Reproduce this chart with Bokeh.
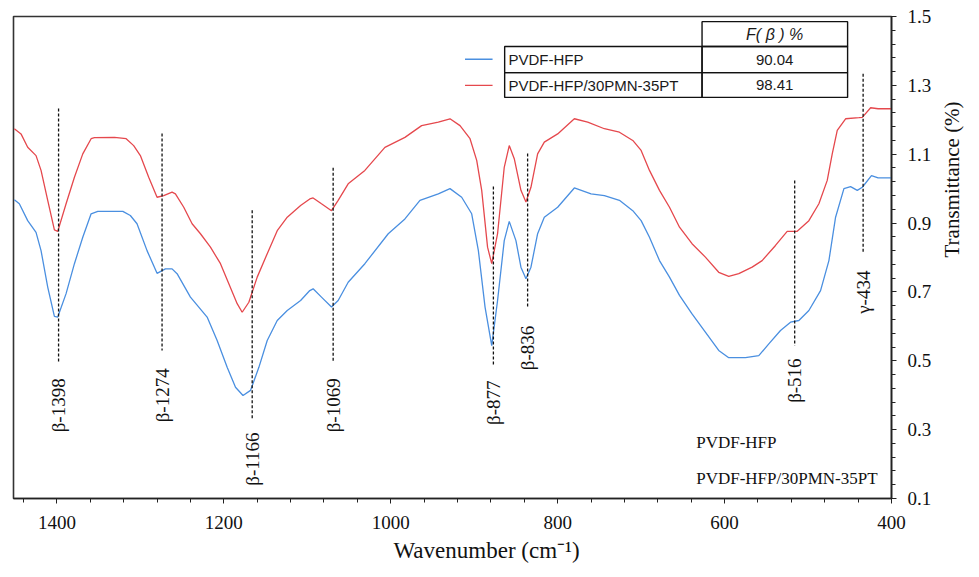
import math
from bokeh.plotting import figure
from bokeh.models import Range1d, FixedTicker, LinearAxis, Title
from bokeh.core.properties import value
from bokeh.embed import file_html
from bokeh.resources import INLINE

# FTIR spectra: wavenumber (cm-1) vs transmittance
pvdf_wn = [1451, 1445, 1435, 1425, 1419, 1411, 1403, 1399, 1389, 1379, 1369, 1359, 1351,
           1321, 1312, 1304, 1292, 1280, 1270, 1262, 1256, 1240, 1220, 1208, 1196, 1186,
           1177, 1168, 1158, 1148, 1136, 1124, 1108, 1097, 1093, 1083, 1071, 1063, 1051,
           1031, 1003, 983, 965, 943, 929, 915, 903, 895, 887, 879, 872, 864, 858, 850,
           844, 838, 832, 824, 816, 800, 780, 760, 744, 726, 710, 700, 690, 678, 666,
           654, 639, 623, 607, 595, 575, 559, 547, 533, 521, 511, 499, 485, 475, 467,
           457, 449, 441, 435, 424, 416, 400]
pvdf_t = [0.968, 0.956, 0.907, 0.873, 0.820, 0.714, 0.629, 0.627, 0.695, 0.782, 0.859, 0.927, 0.934,
          0.934, 0.922, 0.898, 0.820, 0.754, 0.767, 0.767, 0.753, 0.685, 0.627, 0.559, 0.481, 0.423,
          0.399, 0.414, 0.481, 0.559, 0.617, 0.646, 0.675, 0.704, 0.709, 0.685, 0.656, 0.675, 0.728,
          0.782, 0.869, 0.912, 0.966, 0.985, 1.000, 0.975, 0.927, 0.820, 0.656, 0.544, 0.675, 0.849, 0.905, 0.849,
          0.772, 0.738, 0.772, 0.869, 0.917, 0.946, 1.002, 0.985, 0.980, 0.966, 0.936, 0.907, 0.859, 0.791, 0.743,
          0.690, 0.636, 0.583, 0.530, 0.509, 0.509, 0.515, 0.549, 0.588, 0.612, 0.617, 0.646, 0.704, 0.791, 0.917,
          1.000, 1.006, 0.995, 1.004, 1.038, 1.031, 1.031]

comp_wn = [1451, 1443, 1435, 1425, 1419, 1411, 1403, 1399, 1389, 1379, 1369, 1359, 1355,
           1331, 1317, 1308, 1300, 1290, 1280, 1272, 1262, 1258, 1248, 1238, 1228, 1216,
           1204, 1194, 1184, 1178, 1170, 1160, 1148, 1136, 1124, 1108, 1097, 1093, 1083,
           1071, 1063, 1051, 1031, 1007, 983, 963, 943, 929, 917, 905, 897, 891, 884, 879,
           872, 864, 858, 852, 844, 838, 832, 824, 816, 800, 780, 764, 744, 726, 710, 700,
           690, 678, 666, 654, 639, 623, 607, 595, 583, 567, 555, 539, 525, 513, 499, 487,
           477, 471, 465, 455, 439, 435, 425, 416, 400]
comp_t = [1.174, 1.159, 1.120, 1.096, 1.053, 0.966, 0.880, 0.876, 0.956, 1.033, 1.101, 1.145, 1.148,
          1.149, 1.145, 1.125, 1.096, 1.033, 0.975, 0.980, 0.990, 0.985, 0.946, 0.898, 0.869, 0.830,
          0.782, 0.724, 0.666, 0.641, 0.670, 0.743, 0.811, 0.878, 0.917, 0.951, 0.970, 0.973, 0.956,
          0.936, 0.966, 1.014, 1.053, 1.120, 1.149, 1.183, 1.193, 1.203, 1.183, 1.145, 1.082, 0.995, 0.830, 0.782,
          0.869, 1.062, 1.125, 1.087, 0.995, 0.961, 1.004, 1.101, 1.135, 1.159, 1.203, 1.193, 1.174, 1.164, 1.140, 1.111,
          1.053, 0.995, 0.946, 0.888, 0.840, 0.801, 0.757, 0.745, 0.753, 0.772, 0.791, 0.835, 0.876, 0.876, 0.907, 0.956,
          1.024, 1.101, 1.169, 1.203, 1.206, 1.207, 1.235, 1.232, 1.232]

series_names = ["PVDF-HFP", "PVDF-HFP/30PMN-35PT"]
f_beta = ["90.04", "98.41"]

# assigned absorption bands
band_wn = [1398, 1274, 1166, 1069, 877, 836, 516, 434]
band_labels = ["β-1398", "β-1274", "β-1166", "β-1069", "β-877", "β-836", "β-516", "γ-434"]

x_ticks = [400, 600, 800, 1000, 1200, 1400]
y_ticks = [0.1, 0.3, 0.5, 0.7, 0.9, 1.1, 1.3, 1.5]

# layout of the band markers (dashed guide extents and label anchor heights)
guide_top = [1.233, 1.160, 0.937, 1.061, 1.006, 1.102, 1.024, 1.334]
guide_bottom = [0.495, 0.530, 0.332, 0.495, 0.486, 0.652, 0.544, 0.815]
label_top = [0.449, 0.478, 0.292, 0.449, 0.443, 0.602, 0.507, 0.762]

BLUE = "#4a8fe0"
RED = "#e5484d"
SERIF = "Liberation Serif"
SANS = "Liberation Sans"

p = figure(width=979, height=577, output_backend="svg", toolbar_location=None,
           x_range=Range1d(1452, 400), y_range=Range1d(0.1, 1.5),
           y_axis_location="right", min_border_left=13, min_border_top=16,
           min_border_right=86, min_border_bottom=79)
p.background_fill_color = "white"
p.border_fill_color = "white"
p.grid.visible = False
p.outline_line_color = "#333333"
p.outline_line_width = 1.6

# axes
p.xaxis.ticker = FixedTicker(ticks=x_ticks, minor_ticks=list(range(400, 1460, 40)))
p.yaxis.ticker = FixedTicker(ticks=y_ticks,
                             minor_ticks=[round(0.1 + 0.04 * i, 2) for i in range(36)])
p.axis.axis_line_color = "#222222"
p.axis.axis_line_width = 1.6
p.axis.major_tick_line_color = "#222222"
p.axis.minor_tick_line_color = "#222222"
p.axis.major_tick_in = 0
p.axis.minor_tick_in = 0
p.axis.major_tick_out = 5
p.axis.minor_tick_out = 4
p.axis.major_label_text_font = SERIF
p.axis.major_label_text_font_size = "19px"
p.axis.major_label_text_color = "#111111"
p.xaxis.major_label_standoff = 12
p.yaxis.major_label_standoff = 11

p.yaxis.axis_label = "Transmittance (%)"
p.yaxis.axis_label_text_font = SERIF
p.yaxis.axis_label_text_font_style = "normal"
p.yaxis.axis_label_text_font_size = "21px"
p.yaxis.axis_label_text_color = "#111111"
p.yaxis.axis_label_standoff = 18
p.yaxis.axis_label_orientation = math.pi / 2

# empty axis used as vertical padding between the tick labels and the x title
pad_axis = LinearAxis(ticker=FixedTicker(ticks=[]), axis_line_color=None,
                      major_tick_line_color="white", minor_tick_line_color=None,
                      major_tick_in=0, major_tick_out=12, minor_tick_in=0, minor_tick_out=0,
                      major_label_standoff=0)
p.add_layout(pad_axis, "below")
p.add_layout(Title(text="Wavenumber (cm⁻¹)", align="left", offset=380,
                   text_font=SERIF, text_font_size="23px", text_font_style="normal",
                   text_color="#111111", standoff=8), "below")

# spectra
p.line(pvdf_wn, pvdf_t, line_color=BLUE, line_width=1.3)
p.line(comp_wn, comp_t, line_color=RED, line_width=1.3)

# band markers
p.segment(x0=band_wn, y0=guide_top, x1=band_wn, y1=guide_bottom,
          line_color="#111111", line_width=1.3, line_dash="3 2")
p.text(x=band_wn, y=label_top, text=band_labels, angle=math.pi / 2,
       text_align="right", text_baseline="middle",
       text_font=value(SERIF), text_font_size="19px", text_color="#111111")

# legend table with F(beta) values
p.quad(left=[627, 863.5, 627, 863.5, 627], right=[452.6, 627, 452.6, 627, 452.6],
       top=[1.485, 1.413, 1.413, 1.337, 1.337], bottom=[1.413, 1.337, 1.337, 1.265, 1.265],
       fill_color=None, line_color="#111111", line_width=1.4)
p.segment(x0=[911, 911], y0=[1.376, 1.300], x1=[878, 878], y1=[1.376, 1.300],
          line_color=[BLUE, RED], line_width=1.4)
p.text(x=[859, 859], y=[1.375, 1.300], text=series_names,
       text_align="left", text_baseline="middle",
       text_font=value(SANS), text_font_size="15px", text_color="#1a1a1a")
p.text(x=[540, 540], y=[1.375, 1.300], text=f_beta,
       text_align="center", text_baseline="middle",
       text_font=value(SANS), text_font_size="15px", text_color="#1a1a1a")
p.text(x=[540], y=[1.449], text=["F( β ) %"],
       text_align="center", text_baseline="middle",
       text_font=value(SANS), text_font_size="16px", text_font_style="italic",
       text_color="#1a1a1a")

# sample names in the lower right corner
p.text(x=[634, 634], y=[0.263, 0.158], text=series_names,
       text_align="left", text_baseline="middle",
       text_font=value(SERIF), text_font_size="17px", text_color="#111111")

open("out.html", "w").write(file_html(p, INLINE))
